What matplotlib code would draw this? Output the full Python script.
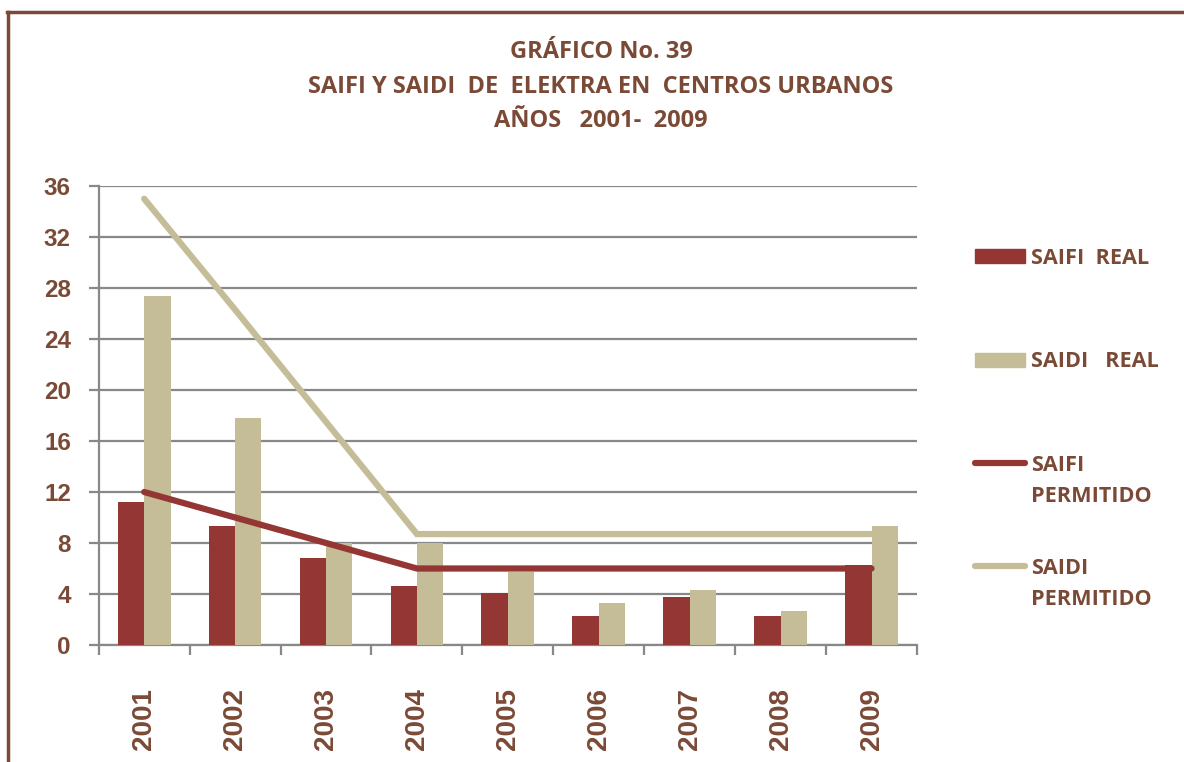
import matplotlib
matplotlib.use("Agg")
import matplotlib.pyplot as plt
import numpy as np
from matplotlib.lines import Line2D
from matplotlib.patches import Rectangle

years = ["2001", "2002", "2003", "2004", "2005", "2006", "2007", "2008", "2009"]
saifi_real = [11.2, 9.35, 6.85, 4.6, 4.05, 2.25, 3.75, 2.3, 6.3]
saidi_real = [27.4, 17.8, 8.0, 8.0, 5.7, 3.3, 4.35, 2.7, 9.35]
saifi_perm = [12, 10, 8, 6, 6, 6, 6, 6, 6]
saidi_perm = [35, 26.3, 17.5, 8.7, 8.7, 8.7, 8.7, 8.7, 8.7]
yticks = [0, 4, 8, 12, 16, 20, 24, 28, 32, 36]
title_lines = ["GRÁFICO No. 39", "SAIFI Y SAIDI  DE  ELEKTRA EN  CENTROS URBANOS", "AÑOS   2001-  2009"]
legend_labels = ["SAIFI  REAL", "SAIDI   REAL", "SAIFI\nPERMITIDO", "SAIDI\nPERMITIDO"]

RED = "#943634"
TAN = "#c4bd97"
BROWN = "#7a4a36"
GRID = "#888888"
TFONT = "Open Sans"

W, H = 1184, 762
fig = plt.figure(figsize=(W / 100, H / 100), dpi=100)
fig.patch.set_facecolor("white")

def fx(px):
    return px / W

def fy(py):
    return 1 - py / H

ax = fig.add_axes([fx(98.7), fy(645), fx(917) - fx(98.7), fy(186) - fy(645)])
x = np.arange(len(years))
bw = 0.29
ax.bar(x - bw / 2, saifi_real, bw, color=RED, zorder=3)
ax.bar(x + bw / 2, saidi_real, bw, color=TAN, zorder=3)
ax.plot(x, saidi_perm, color=TAN, lw=4.5, solid_capstyle="round", solid_joinstyle="miter", zorder=4)
ax.plot(x, saifi_perm, color=RED, lw=4.5, solid_capstyle="round", solid_joinstyle="miter", zorder=5)

ax.set_xlim(-0.5, len(years) - 0.5)
ax.set_ylim(0, 36)
ax.set_yticks(yticks)
ax.set_yticklabels([str(v) for v in yticks])
ax.yaxis.grid(True, color=GRID, lw=1.6, zorder=0)
ax.set_axisbelow(True)
for s in ["top", "right"]:
    ax.spines[s].set_visible(False)
for s in ["left", "bottom"]:
    ax.spines[s].set_color(GRID)
    ax.spines[s].set_linewidth(1.6)

ax.set_xticks(x)
ax.set_xticklabels(years, rotation=90)
ax.set_xticks(np.arange(len(years) + 1) - 0.5, minor=True)
ax.tick_params(axis="x", which="major", length=0, pad=31)
ax.tick_params(axis="x", which="minor", length=7, width=1.6, color=GRID)
ax.tick_params(axis="y", which="major", length=7, width=1.6, color=GRID, pad=13)
for lab in ax.get_xticklabels():
    lab.set_fontfamily("Liberation Sans")
    lab.set_fontweight("bold")
    lab.set_fontsize(20)
    lab.set_color(BROWN)
for lab in ax.get_yticklabels():
    lab.set_fontfamily("Liberation Sans")
    lab.set_fontweight("bold")
    lab.set_fontsize(17.5)
    lab.set_color(BROWN)

# Title
for t, yy in zip(title_lines, [58, 93, 127]):
    fig.text(fx(601), fy(yy), t, ha="center", va="baseline", fontsize=17,
             fontweight="bold", color=BROWN, family=TFONT)

# Legend (manual layout)
lx0, lx1 = 975, 1025
tx = 1031
LFS = 15.6
def legend_text(label, base):
    for k, part in enumerate(label.split("\n")):
        fig.text(fx(tx), fy(base + 31 * k), part, ha="left", va="baseline", fontsize=LFS,
                 fontweight="bold", color=BROWN, family=TFONT)

fig.add_artist(Rectangle((fx(lx0), fy(263)), fx(lx1) - fx(lx0), fy(249) - fy(263),
                         transform=fig.transFigure, color=RED))
legend_text(legend_labels[0], 264)
fig.add_artist(Rectangle((fx(lx0), fy(367)), fx(lx1) - fx(lx0), fy(353) - fy(367),
                         transform=fig.transFigure, color=TAN))
legend_text(legend_labels[1], 367)
for lab, col, yl, base in [(legend_labels[2], RED, 463, 471), (legend_labels[3], TAN, 566, 574)]:
    fig.add_artist(Line2D([fx(lx0), fx(lx1)], [fy(yl), fy(yl)], transform=fig.transFigure,
                          color=col, lw=4.5, solid_capstyle="round"))
    legend_text(lab, base)

# Frame
fig.add_artist(Line2D([fx(8), fx(8)], [fy(12), fy(762)], transform=fig.transFigure, color=BROWN, lw=2.5))
fig.add_artist(Line2D([fx(7), fx(1184)], [fy(12), fy(12)], transform=fig.transFigure, color=BROWN, lw=2.5))

fig.savefig("out.png", dpi=100)
